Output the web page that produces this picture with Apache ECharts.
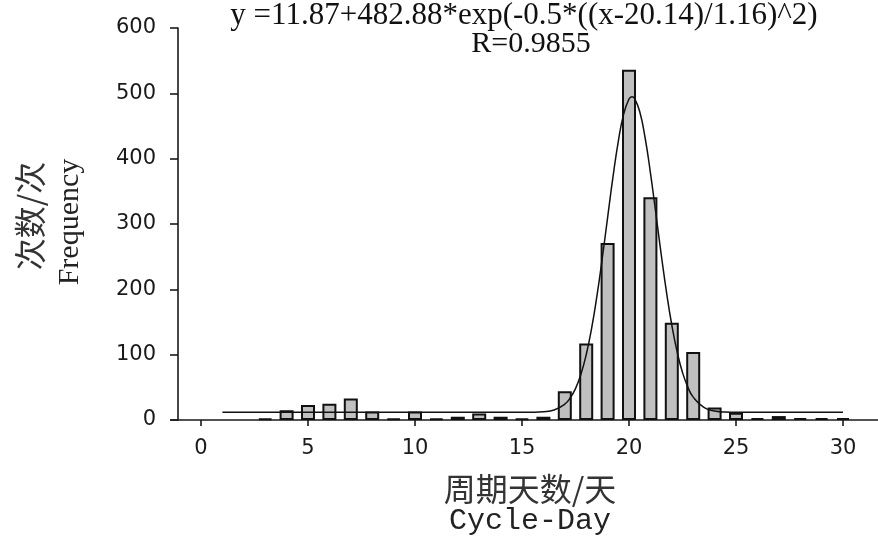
<!DOCTYPE html>
<html>
<head>
<meta charset="utf-8">
<script src="https://cdn.jsdelivr.net/npm/echarts@6/dist/echarts.min.js"></script>
<style>
  html, body { margin: 0; padding: 0; background: #fff; }
  #chart { width: 878px; height: 541px; }
</style>
</head>
<body>
<div id="chart"></div>
<script>
// 周期天数 (bars)
var days = [3, 4, 5, 6, 7, 8, 9, 10, 11, 12, 13, 14, 15, 16, 17, 18, 19, 20, 21, 22, 23, 24, 25, 26, 27, 28, 29, 30];
var counts = [2, 15, 23, 25, 33, 13, 2, 13, 2, 5, 10, 5, 2, 5, 44, 117, 271, 536, 341, 149, 104, 19, 11, 3, 6, 3, 3, 3];

// fitted curve, values
var fitX = [1, 15, 15.5, 16, 16.5, 17, 17.25, 17.5, 17.75, 18, 18.25, 18.5, 18.75, 19, 19.25, 19.5, 19.75, 20, 20.14, 20.25, 20.5, 20.75, 21, 21.25, 21.5, 21.75, 22, 22.25, 22.5, 22.75, 23, 23.5, 24, 24.5, 25, 30];
var fitY = [11.9, 11.9, 12.0, 12.7, 15.4, 24.3, 33.6, 48.1, 69.7, 99.9, 139.9, 189.6, 247.4, 309.8, 371.6, 426.6, 468.2, 491.3, 494.8, 492.6, 472.1, 432.4, 378.7, 317.4, 254.7, 196.2, 145.4, 104.2, 72.8, 50.3, 35.0, 19.2, 13.8, 12.3, 12.0, 11.9];

var xTicks = [0, 30, 5];
var yTicks = [0, 600, 100];

var fitText = "y =11.87+482.88*exp(-0.5*((x-20.14)/1.16)^2)";
var rText = "R=0.9855";

var myChart = echarts.init(document.getElementById("chart"));

var barData = [];
for (var i = 0; i < days.length; i++) {
  barData.push([days[i], counts[i]]);
}
var lineData = [];
for (var j = 0; j < fitX.length; j++) {
  lineData.push([fitX[j], fitY[j]]);
}

var axisColor = "#1a1a1a";

var option = {
  backgroundColor: "#fff",
  animation: false,
  grid: [
    // frame grid: holds the axis lines and y labels
    { left: 171, right: 0, top: 28, bottom: 121 },
    // data grid: x from 0 to 30
    { left: 201, right: 35, top: 28, bottom: 121 }
  ],
  xAxis: [
    {
      gridIndex: 0,
      type: "value",
      min: 0,
      max: 1,
      axisLine: { show: true, lineStyle: { color: axisColor, width: 1.6 } },
      axisTick: { show: false },
      axisLabel: { show: false },
      splitLine: { show: false }
    },
    {
      gridIndex: 1,
      type: "value",
      min: xTicks[0],
      max: xTicks[1],
      interval: xTicks[2],
      axisLine: { show: false },
      axisTick: { show: true, length: 6, lineStyle: { color: axisColor, width: 1.6 } },
      axisLabel: {
        margin: 18,
        color: "#1a1a1a",
        fontFamily: "DejaVu Sans",
        fontSize: 21
      },
      splitLine: { show: false }
    }
  ],
  yAxis: [
    {
      gridIndex: 0,
      type: "value",
      min: yTicks[0],
      max: yTicks[1],
      interval: yTicks[2],
      offset: -7,
      axisLine: { show: true, lineStyle: { color: axisColor, width: 1.6 } },
      axisTick: { show: true, length: 8, lineStyle: { color: axisColor, width: 1.6 } },
      axisLabel: {
        margin: 22,
        color: "#1a1a1a",
        fontFamily: "DejaVu Sans",
        fontSize: 21
      },
      splitLine: { show: false }
    },
    {
      gridIndex: 1,
      type: "value",
      min: yTicks[0],
      max: yTicks[1],
      show: false,
      splitLine: { show: false }
    }
  ],
  graphic: [
    {
      type: "text",
      x: 524,
      y: 16,
      style: {
        text: fitText,
        font: "31px 'Liberation Serif'",
        fill: "#111",
        align: "center",
        verticalAlign: "middle",
        textAlign: "center",
        textVerticalAlign: "middle"
      }
    },
    {
      type: "text",
      x: 531,
      y: 44,
      style: {
        text: rText,
        font: "30px 'Liberation Serif'",
        fill: "#111",
        align: "center",
        verticalAlign: "middle",
        textAlign: "center",
        textVerticalAlign: "middle"
      }
    },
    {
      type: "text",
      x: 530,
      y: 489,
      style: {
        text: "周期天数/天",
        font: "32px 'Noto Sans CJK SC'",
        fill: "#333",
        align: "center",
        verticalAlign: "middle",
        textAlign: "center",
        textVerticalAlign: "middle"
      }
    },
    {
      type: "text",
      x: 530,
      y: 521,
      style: {
        text: "Cycle-Day",
        font: "30px 'Liberation Mono'",
        fill: "#222",
        align: "center",
        verticalAlign: "middle",
        textAlign: "center",
        textVerticalAlign: "middle"
      }
    },
    {
      type: "text",
      x: 30,
      y: 216,
      rotation: Math.PI / 2,
      style: {
        text: "次数/次",
        font: "32px 'Noto Sans CJK SC'",
        fill: "#333",
        align: "center",
        verticalAlign: "middle",
        textAlign: "center",
        textVerticalAlign: "middle"
      }
    },
    {
      type: "text",
      x: 70,
      y: 222,
      rotation: Math.PI / 2,
      style: {
        text: "Frequency",
        font: "30px 'Liberation Serif'",
        fill: "#222",
        align: "center",
        verticalAlign: "middle",
        textAlign: "center",
        textVerticalAlign: "middle"
      }
    }
  ],
  series: [
    {
      name: "Frequency",
      type: "bar",
      xAxisIndex: 1,
      yAxisIndex: 1,
      barWidth: 14,
      data: barData,
      itemStyle: {
        color: "#c0c0c0",
        borderColor: "#111",
        borderWidth: 2
      }
    },
    {
      name: "fit",
      type: "line",
      xAxisIndex: 1,
      yAxisIndex: 1,
      smooth: true,
      showSymbol: false,
      symbol: "none",
      data: lineData,
      lineStyle: { color: "#111", width: 1.5 }
    }
  ]
};

myChart.setOption(option, true);
</script>
</body>
</html>
